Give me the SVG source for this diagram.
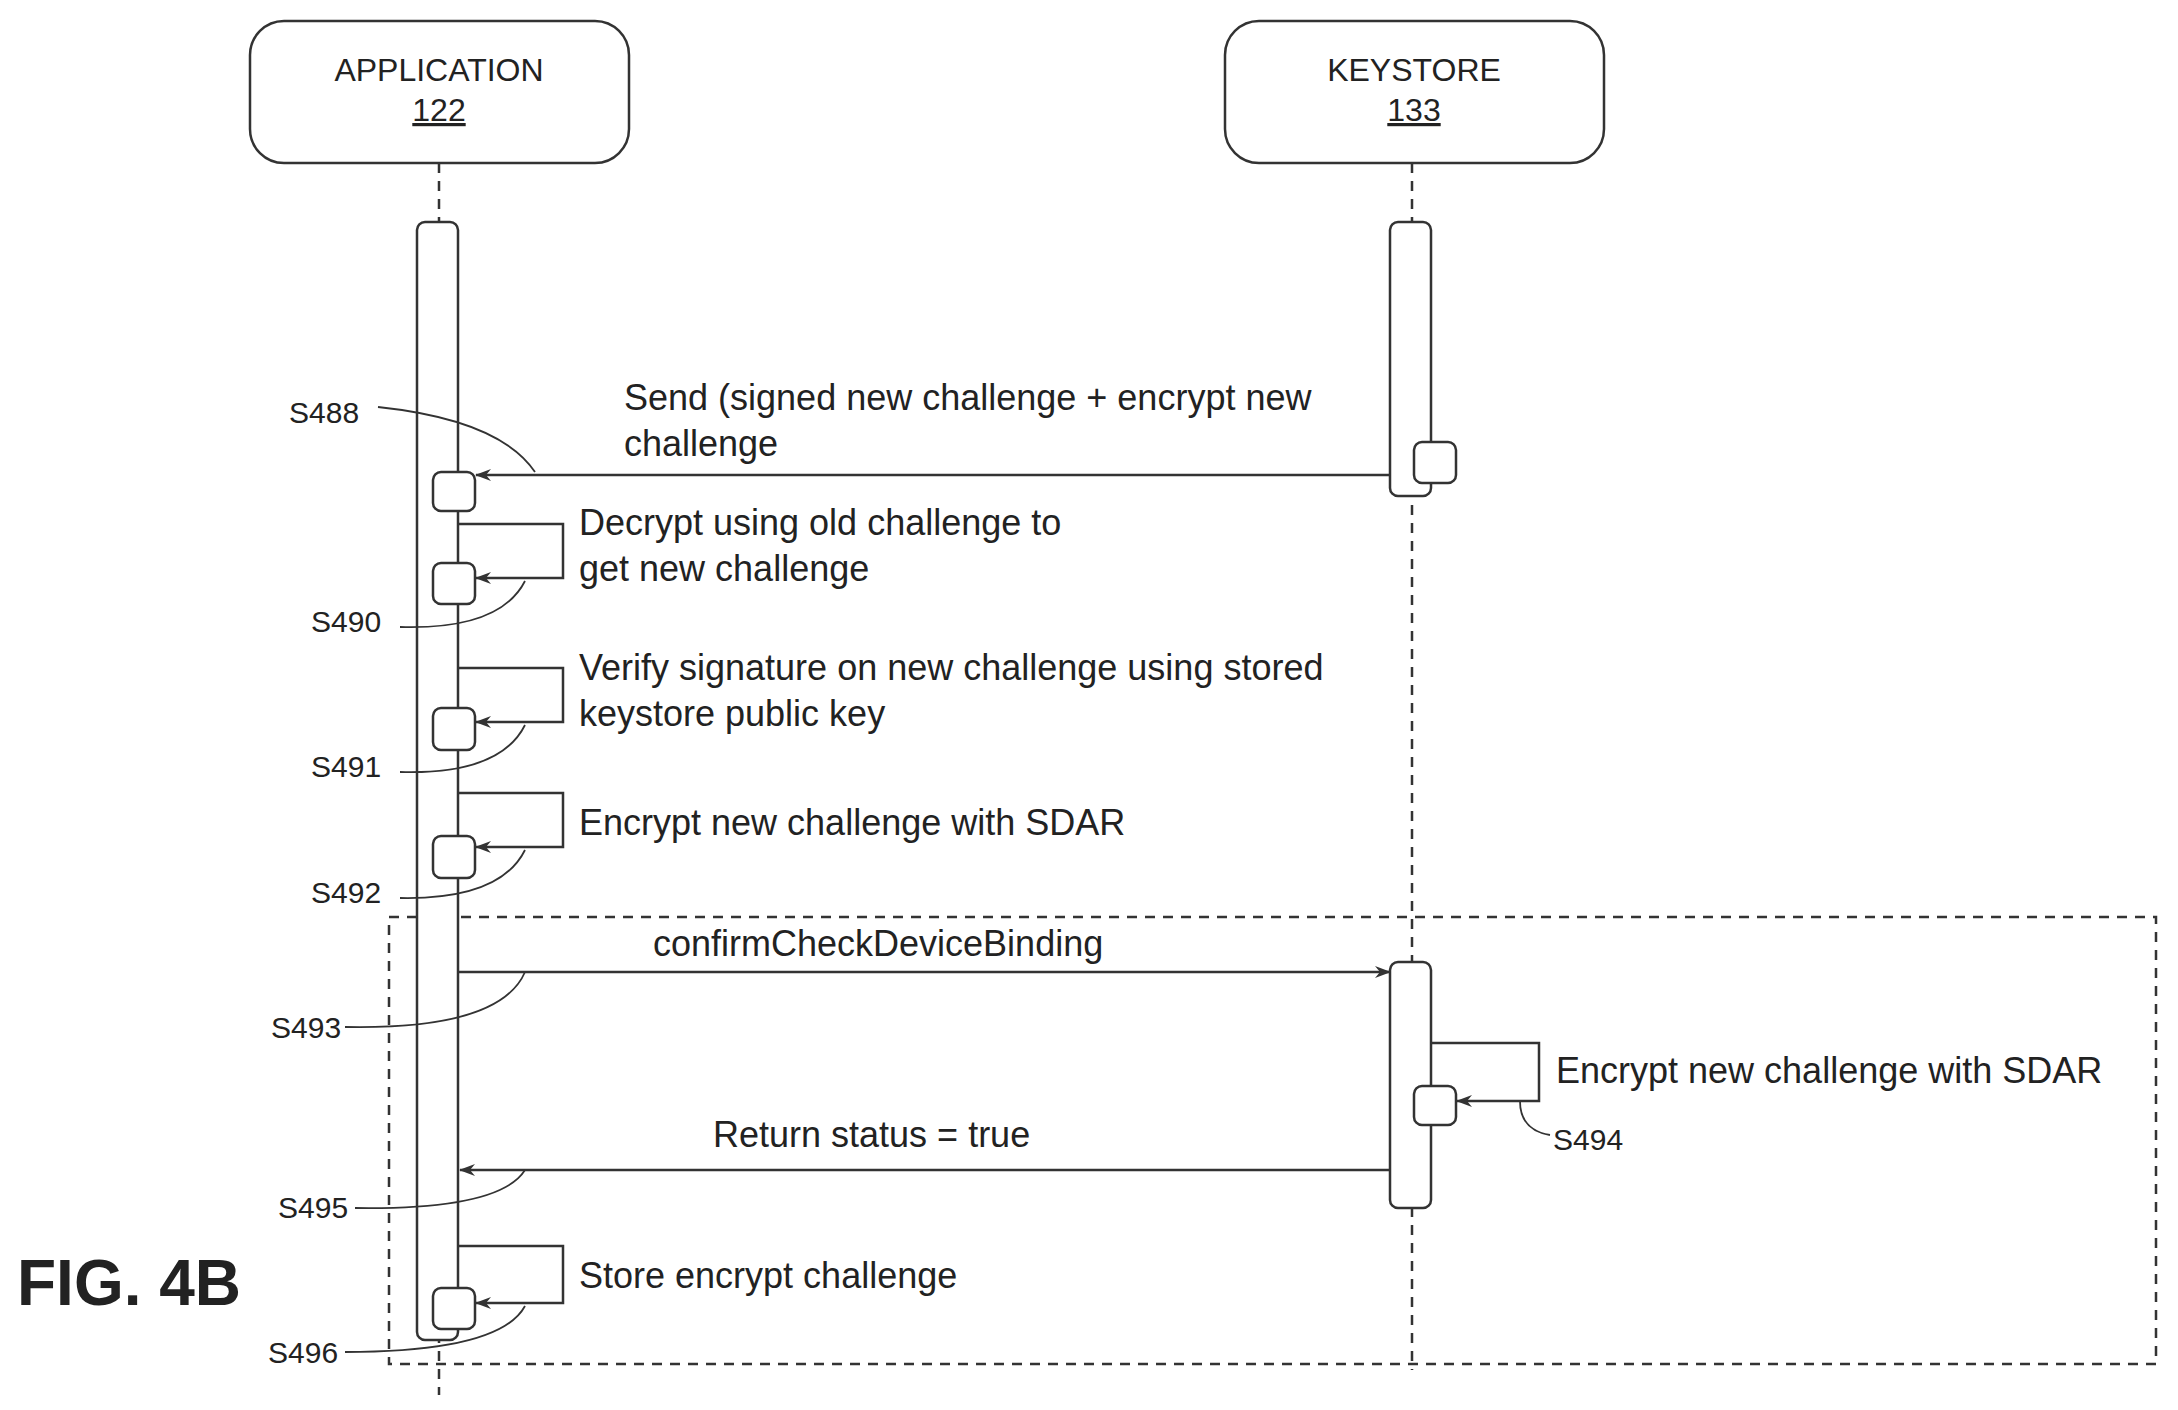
<svg xmlns="http://www.w3.org/2000/svg" width="2178" height="1410" viewBox="0 0 2178 1410">
<style>
.t{font-family:"Liberation Sans",Arial,sans-serif;font-size:36px;fill:#222}
.h{font-family:"Liberation Sans",Arial,sans-serif;font-size:32px;fill:#222;text-anchor:middle}
.s{font-family:"Liberation Sans",Arial,sans-serif;font-size:30px;fill:#222}
.b{fill:#fff;stroke:#333;stroke-width:2.5}
.l{fill:none;stroke:#333;stroke-width:2.5}
.d{fill:none;stroke:#333;stroke-width:2.5;stroke-dasharray:10 8}
.c{fill:none;stroke:#333;stroke-width:1.8}
</style>
<defs>
<marker id="a" markerWidth="16" markerHeight="12" refX="15" refY="6" orient="auto" markerUnits="userSpaceOnUse">
<path d="M0,0 L16,6 L0,12 L5,6 Z" fill="#333"/>
</marker>
</defs>
<rect width="2178" height="1410" fill="#fff"/>
<g id="application">
<rect class="b" x="250" y="21" width="379" height="142" rx="34"/>
<text class="h" x="439" y="81">APPLICATION</text>
<text class="h" x="439" y="121" text-decoration="underline">122</text>
</g>
<g id="keystore">
<rect class="b" x="1225" y="21" width="379" height="142" rx="34"/>
<text class="h" x="1414" y="81">KEYSTORE</text>
<text class="h" x="1414" y="121" text-decoration="underline">133</text>
</g>
<g id="lifelines">
<line class="d" x1="439" y1="163" x2="439" y2="1395"/>
<line class="d" x1="1412" y1="163" x2="1412" y2="1370"/>
</g>
<g id="frame">
<rect class="d" x="389" y="917" width="1767" height="447"/>
</g>
<g id="activations">
<rect class="b" x="417" y="222" width="41" height="1118" rx="8"/>
<rect class="b" x="1390" y="222" width="41" height="274" rx="8"/>
<rect class="b" x="1390" y="962" width="41" height="246" rx="8"/>
<rect class="b" x="1414" y="442" width="42" height="41" rx="8"/>
<rect class="b" x="433" y="472" width="42" height="39" rx="8"/>
<rect class="b" x="433" y="563" width="42" height="41" rx="8"/>
<rect class="b" x="433" y="708" width="42" height="42" rx="8"/>
<rect class="b" x="433" y="836" width="42" height="42" rx="8"/>
<rect class="b" x="1414" y="1086" width="42" height="39" rx="8"/>
<rect class="b" x="433" y="1288" width="42" height="41" rx="8"/>
</g>
<g id="connectors">
<line class="l" x1="1390" y1="475" x2="476" y2="475" marker-end="url(#a)"/>
<polyline class="l" points="458,524 563,524 563,578 476,578" marker-end="url(#a)"/>
<polyline class="l" points="458,668 563,668 563,722 476,722" marker-end="url(#a)"/>
<polyline class="l" points="458,793 563,793 563,847 476,847" marker-end="url(#a)"/>
<line class="l" x1="458" y1="972" x2="1390" y2="972" marker-end="url(#a)"/>
<polyline class="l" points="1431,1043 1539,1043 1539,1101 1457,1101" marker-end="url(#a)"/>
<line class="l" x1="1390" y1="1170" x2="460" y2="1170" marker-end="url(#a)"/>
<polyline class="l" points="458,1246 563,1246 563,1303 476,1303" marker-end="url(#a)"/>
<path class="c" d="M378,407 Q500,420 535,472"/>
<path class="c" d="M400,627 Q500,630 525,581"/>
<path class="c" d="M400,772 Q500,775 525,725"/>
<path class="c" d="M400,898 Q500,900 525,850"/>
<path class="c" d="M345,1027 Q500,1030 525,972"/>
<path class="c" d="M1520,1101 Q1520,1130 1550,1135"/>
<path class="c" d="M355,1208 Q500,1210 525,1170"/>
<path class="c" d="M345,1352 Q500,1352 525,1306"/>
</g>
<g id="labels">
<text class="t" x="624" y="410">Send (signed new challenge + encrypt new</text>
<text class="t" x="624" y="456">challenge</text>
<text class="t" x="579" y="535">Decrypt using old challenge to</text>
<text class="t" x="579" y="581">get new challenge</text>
<text class="t" x="579" y="680">Verify signature on new challenge using stored</text>
<text class="t" x="579" y="726">keystore public key</text>
<text class="t" x="579" y="835">Encrypt new challenge with SDAR</text>
<text class="t" x="653" y="956">confirmCheckDeviceBinding</text>
<text class="t" x="1556" y="1083">Encrypt new challenge with SDAR</text>
<text class="t" x="713" y="1147">Return status = true</text>
<text class="t" x="579" y="1288">Store encrypt challenge</text>
<text class="s" x="289" y="423">S488</text>
<text class="s" x="311" y="632">S490</text>
<text class="s" x="311" y="777">S491</text>
<text class="s" x="311" y="903">S492</text>
<text class="s" x="271" y="1038">S493</text>
<text class="s" x="1553" y="1150">S494</text>
<text class="s" x="278" y="1218">S495</text>
<text class="s" x="268" y="1363">S496</text>
<text x="17" y="1305" style="font-family:'Liberation Sans',Arial,sans-serif;font-size:64px;font-weight:bold;fill:#222">FIG. 4B</text>
</g>
</svg>
